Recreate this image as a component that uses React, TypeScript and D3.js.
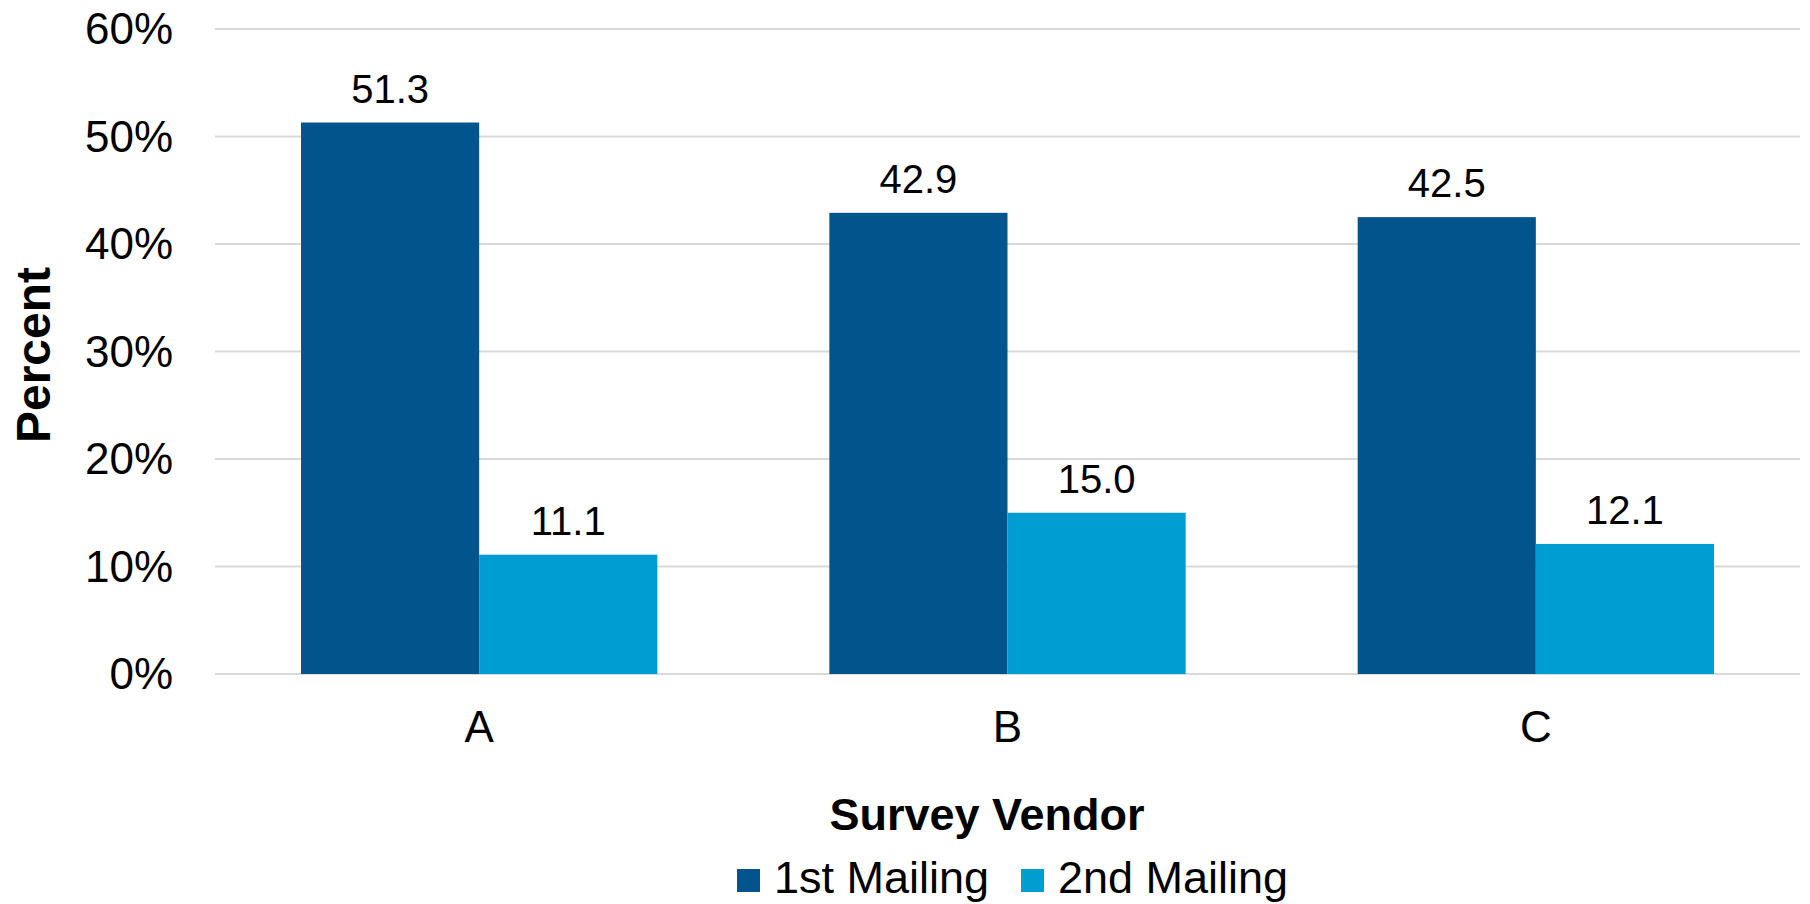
import React from "react";
import * as d3 from "d3";

// Response rates by survey vendor and mailing wave
const vendors = ["A", "B", "C"];
const mailings = ["1st Mailing", "2nd Mailing"];
const firstMailing = [51.3, 42.9, 42.5];
const secondMailing = [11.1, 15.0, 12.1];
const yTicks = [0, 10, 20, 30, 40, 50, 60];
const colors = ["#02548c", "#009dd2"];

const W = 1810;
const H = 904;
const FONT = "'Liberation Sans', Arial, Helvetica, sans-serif";

export default function App() {
  const left = 215;
  const right = 1800;
  const top = 29;
  const bottom = 674;

  const x = d3
    .scaleBand<string>()
    .domain(vendors)
    .range([left, right])
    .paddingInner(0.3256)
    .paddingOuter(0.1628);
  const xInner = d3
    .scaleBand<string>()
    .domain(mailings)
    .range([0, x.bandwidth()]);
  const y = d3.scaleLinear().domain([0, 60]).range([bottom, top]);

  const series = [firstMailing, secondMailing];

  return (
    <svg
      width={W}
      height={H}
      style={{ position: "absolute", left: 0, top: 0 }}
      fontFamily={FONT}
    >
      <rect width={W} height={H} fill="#ffffff" />
      {/* gridlines and y tick labels */}
      {yTicks.map((t) => (
        <g key={t}>
          <line
            x1={left}
            x2={right}
            y1={y(t)}
            y2={y(t)}
            stroke="#d9d9d9"
            strokeWidth={2}
          />
          <text
            x={173}
            y={y(t) + 15}
            textAnchor="end"
            fontSize={44}
            fill="#000"
          >
            {t}%
          </text>
        </g>
      ))}
      {/* bars with value labels */}
      {vendors.map((v, i) => (
        <g key={v} transform={`translate(${x(v)},0)`}>
          {mailings.map((m, j) => {
            const val = series[j][i];
            const bx = xInner(m)!;
            const bw = xInner.bandwidth();
            return (
              <g key={m}>
                <rect
                  x={bx}
                  y={y(val)}
                  width={bw}
                  height={y(0) - y(val)}
                  fill={colors[j]}
                />
                <text
                  x={bx + bw / 2}
                  y={y(val) - 20}
                  textAnchor="middle"
                  fontSize={40}
                  fill="#000"
                >
                  {val.toFixed(1)}
                </text>
              </g>
            );
          })}
          <text
            x={x.bandwidth() / 2}
            y={742}
            textAnchor="middle"
            fontSize={44}
            fill="#000"
          >
            {v}
          </text>
        </g>
      ))}
      {/* axis titles */}
      <text
        transform={`translate(50,355) rotate(-90)`}
        textAnchor="middle"
        fontSize={48}
        fontWeight="bold"
        fill="#000"
      >
        Percent
      </text>
      <text
        x={987}
        y={830}
        textAnchor="middle"
        fontSize={45}
        fontWeight="bold"
        fill="#000"
      >
        Survey Vendor
      </text>
      {/* legend */}
      {mailings.map((m, j) => {
        const lx = j === 0 ? 737 : 1021;
        return (
          <g key={m}>
            <rect x={lx} y={869} width={23} height={23} fill={colors[j]} />
            <text x={lx + 37} y={893} fontSize={45} fill="#000">
              {m}
            </text>
          </g>
        );
      })}
    </svg>
  );
}
